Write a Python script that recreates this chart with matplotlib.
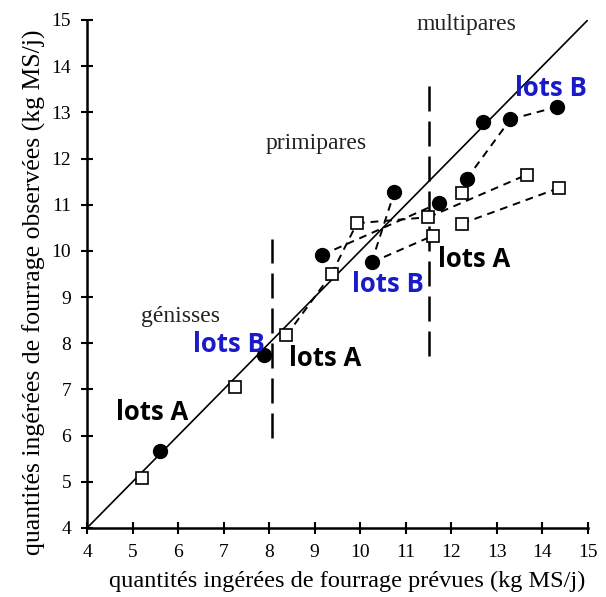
#!/usr/bin/env python3
"""
Observed vs predicted forage intake, lots A and B
"""

import matplotlib
matplotlib.use("Agg")
import matplotlib.pyplot as plt

# lots A (open squares)
lotA_x = [5.21, 7.25, 8.38, 9.37, 9.93, 11.50, 11.60, 12.23, 12.23, 13.66, 14.36]
lotA_y = [5.09, 7.06, 8.17, 9.50, 10.60, 10.73, 10.33, 11.26, 10.59, 11.65, 11.36]

# lots B (filled circles)
lotB_x = [5.60, 7.89, 9.16, 10.25, 10.75, 11.74, 12.34, 12.70, 13.30, 14.33]
lotB_y = [5.66, 7.74, 9.91, 9.75, 11.27, 11.04, 11.56, 12.80, 12.85, 13.12]

# dashed links between points: (lot, index, lot, index)
links = [
    ("A", 2, "A", 3),
    ("A", 3, "A", 4),
    ("A", 4, "A", 5),
    ("B", 2, "B", 5),
    ("B", 3, "B", 4),
    ("B", 3, "A", 6),
    ("A", 5, "A", 9),
    ("A", 8, "A", 10),
    ("B", 6, "B", 8),
    ("B", 8, "B", 9),
]

# group boundaries (x, y from, y to)
separators = [(8.07, 5.95, 10.25), (11.52, 7.72, 13.57)]

groups = ["génisses", "primipares", "multipares"]
group_pos = [(6.06, 8.47), (9.04, 12.2), (12.33, 14.78)]

lot_labels = ["lots A", "lots B", "lots A", "lots B", "lots A", "lots B"]
lot_pos = [(5.43, 6.34), (7.11, 7.82), (9.24, 7.51), (10.62, 9.10),
           (12.51, 9.66), (14.18, 13.35)]
lot_colors = ["black", "#1a1ac8", "black", "#1a1ac8", "black", "#1a1ac8"]

SERIF = "Liberation Serif"
SANS = "Open Sans"


def point(lot, i):
    if lot == "A":
        return lotA_x[i], lotA_y[i]
    return lotB_x[i], lotB_y[i]


fig = plt.figure(figsize=(6.06, 5.97), dpi=100)
ax = fig.add_axes([0.1436, 0.1156, 0.8264, 0.8509])

ax.plot([4, 15], [4, 15], color="black", lw=1.2, zorder=1)

for lot0, i0, lot1, i1 in links:
    x0, y0 = point(lot0, i0)
    x1, y1 = point(lot1, i1)
    ax.plot([x0, x1], [y0, y1], color="black", lw=1.4,
            dashes=(4, 3), zorder=2)

for x, y0, y1 in separators:
    ax.plot([x, x], [y0, y1], color="black", lw=1.8,
            dashes=(10, 4), zorder=2)

ax.plot(lotA_x, lotA_y, ls="none", marker="s", ms=9, mfc="white",
        mec="black", mew=1.2, zorder=3)
ax.plot(lotB_x, lotB_y, ls="none", marker="o", ms=10, mfc="black",
        mec="black", zorder=4)

for name, (x, y) in zip(groups, group_pos):
    ax.text(x, y, name, family=SERIF, fontsize=17, ha="center",
            va="baseline", color="#222222")

for name, (x, y), c in zip(lot_labels, lot_pos, lot_colors):
    ax.text(x, y, name, family=SANS, fontsize=18.5, fontweight="bold",
            ha="center", va="baseline", color=c, zorder=5)

ax.set_xlim(4, 15)
ax.set_ylim(4, 15)
ax.set_xticks(range(4, 16))
ax.set_yticks(range(4, 16))
ax.spines["top"].set_visible(False)
ax.spines["right"].set_visible(False)
for s in ("left", "bottom"):
    ax.spines[s].set_linewidth(1.8)
ax.tick_params(direction="inout", length=9, width=1.5, labelsize=14,
               pad=7)
for lab in ax.get_xticklabels() + ax.get_yticklabels():
    lab.set_family(SERIF)

ax.set_xlabel("quantités ingérées de fourrage prévues (kg MS/j)",
              family=SERIF, fontsize=17.5, labelpad=7)
ax.set_ylabel("quantités ingérées de fourrage observées (kg MS/j)",
              family=SERIF, fontsize=18.5, labelpad=4)
ax.xaxis.label.set_x(0.52)
ax.yaxis.label.set_y(0.465)

fig.savefig("out.png", dpi=100)
